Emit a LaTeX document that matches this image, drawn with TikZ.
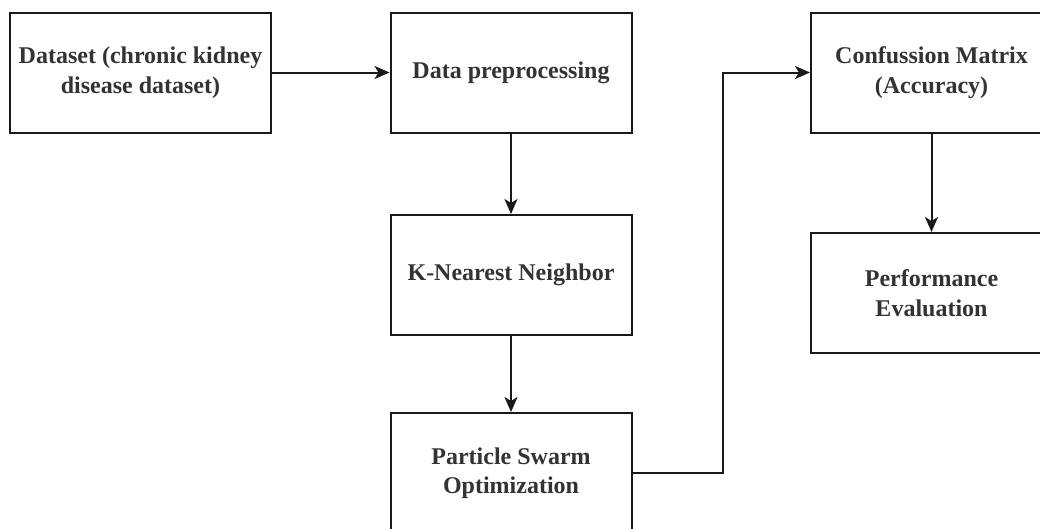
\documentclass[tikz,border=0pt]{standalone}
\usepackage{fontspec}
\setmainfont{Liberation Serif}
\usetikzlibrary{arrows.meta}
\begin{document}
\begin{tikzpicture}[x=1pt,y=-1pt,
  box/.style={draw=black!90, line width=2pt, minimum width=241pt, minimum height=120pt,
    align=center, inner sep=0pt, font=\fontsize{24}{29.5}\selectfont\bfseries, text=black!80},
  conn/.style={draw=black!90, line width=2pt, -{Stealth[length=15pt,width=13pt,inset=4pt]}}]
\useasboundingbox (0,0) rectangle (1040,528);
\clip (0,0) rectangle (1040,528);
\fill[white] (0,0) rectangle (1040,528);
\node[box, minimum width=261pt] (b1) at (140.5,72.5) {Dataset (chronic kidney\\disease dataset)};
\node[box] (b2) at (511,72.5) {Data preprocessing};
\node[box] (b3) at (511,275) {K-Nearest Neighbor};
\node[box] (b4) at (511,473) {Particle Swarm\\Optimization};
\node[box] (b5) at (931.5,72.5) {Confussion Matrix\\(Accuracy)};
\node[box] (b6) at (931.5,293) {Performance\\Evaluation};
\draw[conn] (b1.east) -- (b2.west);
\draw[conn] (b2.south) -- (b3.north);
\draw[conn] (b3.south) -- (b4.north);
\draw[conn] (b4.east) -- ++(90,0) |- (b5.west);
\draw[conn] (b5.south) -- (b6.north);
\end{tikzpicture}
\end{document}
